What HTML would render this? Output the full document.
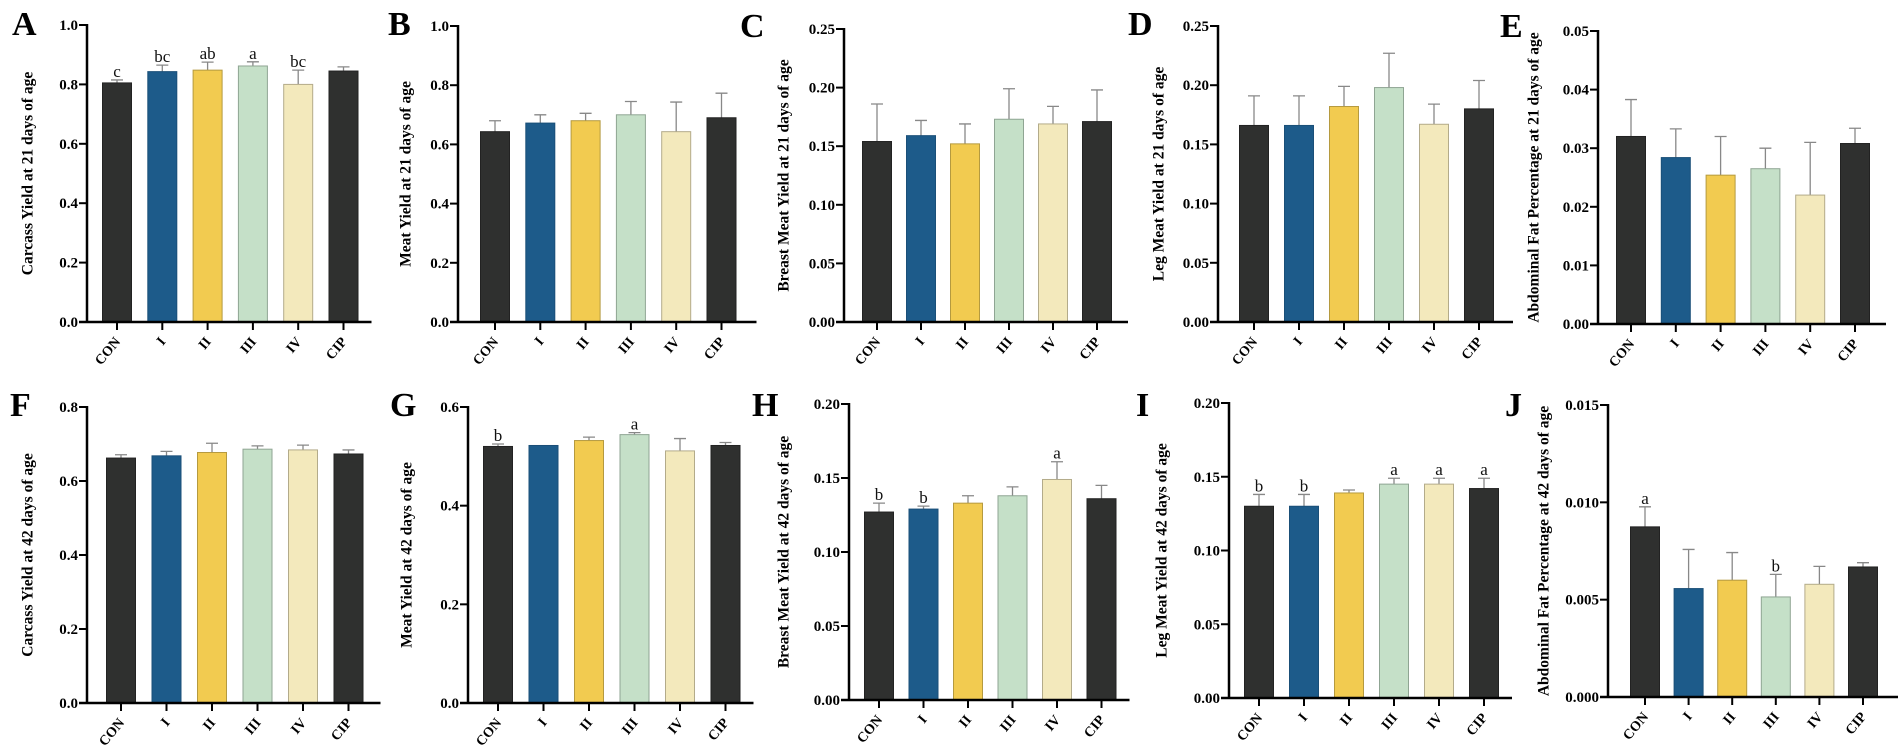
<!DOCTYPE html>
<html><head><meta charset="utf-8">
<style>
html,body{margin:0;padding:0;background:#fff;}
svg{display:block;font-family:"Liberation Serif",serif;font-weight:bold;}
</style></head>
<body>
<svg id="fig" width="1901" height="754" viewBox="0 0 1901 754" xmlns="http://www.w3.org/2000/svg"></svg>
<script>
const categories = ["CON","I","II","III","IV","CIP"];
const colors = ["#2f302f","#1d5b8a","#f2cb50","#c5e0c8","#f3e9bc","#2f302f"];
const strokes = ["#222","#1a4f78","#b59a3f","#8fa593","#b3ab8a","#222"];

const valsA = [0.805,0.843,0.848,0.862,0.800,0.845];
const errA  = [0.010,0.022,0.027,0.014,0.048,0.014];
const sigA  = ["c","bc","ab","a","bc",""];
const valsB = [0.643,0.672,0.680,0.700,0.643,0.690];
const errB  = [0.037,0.028,0.025,0.045,0.100,0.083];
const valsC = [0.154,0.159,0.152,0.173,0.169,0.171];
const errC  = [0.032,0.013,0.017,0.026,0.015,0.027];
const valsD = [0.166,0.166,0.182,0.198,0.167,0.180];
const errD  = [0.025,0.025,0.017,0.029,0.017,0.024];
const valsE = [0.0320,0.0284,0.0254,0.0265,0.0220,0.0308];
const errE  = [0.0063,0.0049,0.0066,0.0035,0.0090,0.0026];
const valsF = [0.662,0.668,0.677,0.686,0.684,0.673];
const errF  = [0.009,0.012,0.025,0.009,0.013,0.011];
const valsG = [0.520,0.522,0.532,0.544,0.511,0.522];
const errG  = [0.005,0.000,0.007,0.004,0.025,0.006];
const sigG  = ["b","","","a","",""];
const valsH = [0.127,0.129,0.133,0.138,0.149,0.136];
const errH  = [0.006,0.002,0.005,0.006,0.012,0.009];
const sigH  = ["b","b","","","a",""];
const valsI = [0.130,0.130,0.139,0.145,0.145,0.142];
const errI  = [0.008,0.008,0.002,0.004,0.004,0.007];
const sigI  = ["b","b","","a","a","a"];
const valsJ = [0.00874,0.00557,0.0060,0.00514,0.00579,0.00668];
const errJ  = [0.00103,0.00201,0.00142,0.00116,0.00092,0.00022];
const sigJ  = ["a","","","b","",""];

const ticksA = ["0.0","0.2","0.4","0.6","0.8","1.0"];
const ticksC = ["0.00","0.05","0.10","0.15","0.20","0.25"];
const ticksE = ["0.00","0.01","0.02","0.03","0.04","0.05"];
const ticksF = ["0.0","0.2","0.4","0.6","0.8"];
const ticksG = ["0.0","0.2","0.4","0.6"];
const ticksH = ["0.00","0.05","0.10","0.15","0.20"];
const ticksJ = ["0.000","0.005","0.010","0.015"];

const panels = [
 {id:"a",letter:"A",lx:12,ly:35,ax:87,top:25,zero:322,max:1.0,ticks:ticksA,vals:valsA,err:errA,sig:sigA,off:30,sp:45.3,title:"Carcass Yield at 21 days of age",tx:29},
 {id:"b",letter:"B",lx:388,ly:35,ax:458,top:26,zero:322,max:1.0,ticks:ticksA,vals:valsB,err:errB,sig:null,off:37,sp:45.3,title:"Meat Yield at 21 days of age",tx:407},
 {id:"c",letter:"C",lx:740,ly:37,ax:844,top:29,zero:322,max:0.25,ticks:ticksC,vals:valsC,err:errC,sig:null,off:33,sp:44,title:"Breast Meat Yield at 21 days of age",tx:785},
 {id:"d",letter:"D",lx:1128,ly:35,ax:1218,top:26,zero:322,max:0.25,ticks:ticksC,vals:valsD,err:errD,sig:null,off:36,sp:45,title:"Leg Meat Yield at 21 days of age",tx:1160},
 {id:"e",letter:"E",lx:1500,ly:37,ax:1598,top:31,zero:324,max:0.05,ticks:ticksE,vals:valsE,err:errE,sig:null,off:33,sp:44.8,title:"Abdominal Fat Percentage at 21 days of age",tx:1535},
 {id:"f",letter:"F",lx:10,ly:416,ax:87,top:407,zero:703,max:0.8,ticks:ticksF,vals:valsF,err:errF,sig:null,off:34,sp:45.5,title:"Carcass Yield at 42 days of age",tx:29},
 {id:"g",letter:"G",lx:390,ly:416,ax:468,top:407,zero:703,max:0.6,ticks:ticksG,vals:valsG,err:errG,sig:sigG,off:30,sp:45.5,title:"Meat Yield at 42 days of age",tx:408},
 {id:"h",letter:"H",lx:752,ly:416,ax:849,top:404,zero:700,max:0.20,ticks:ticksH,vals:valsH,err:errH,sig:sigH,off:30,sp:44.5,title:"Breast Meat Yield at 42 days of age",tx:785},
 {id:"i",letter:"I",lx:1136,ly:416,ax:1229,top:403,zero:698,max:0.20,ticks:ticksH,vals:valsI,err:errI,sig:sigI,off:30,sp:45,title:"Leg Meat Yield at 42 days of age",tx:1163},
 {id:"j",letter:"J",lx:1505,ly:416,ax:1608,top:405,zero:697,max:0.015,ticks:ticksJ,vals:valsJ,err:errJ,sig:sigJ,off:37,sp:43.6,title:"Abdominal Fat Percentage at 42 days of age",tx:1545}
];

const NS="http://www.w3.org/2000/svg";
const svg=document.getElementById("fig");
function mk(tag,attrs,parent){const e=document.createElementNS(NS,tag);for(const k in attrs)e.setAttribute(k,attrs[k]);(parent||svg).appendChild(e);return e;}

panels.forEach(p=>{
  const g=mk("g",{});
  
  
  const y=v=>p.zero-(v/p.max)*(p.zero-p.top);
  const xc=i=>p.ax+p.off+i*p.sp;
  const axEnd=p.ax+p.off+5*p.sp+p.off-2;

  const L=mk("text",{x:p.lx,y:p.ly,"font-size":34,fill:"#000"},g);
  L.textContent=p.letter;
  
  

  const T=mk("text",{x:p.tx,y:(p.top+p.zero)/2,"font-size":15.5,fill:"#000","text-anchor":"middle",transform:`rotate(-90 ${p.tx} ${(p.top+p.zero)/2})`,"dominant-baseline":"middle"},g);
  T.textContent=p.title;
  
  

  // bars
  p.vals.forEach((v,i)=>{
    const bw=29;
    const top=y(v);
    const eb=y(v+p.err[i]);
    if(p.err[i]>0){
      const el=mk("path",{d:`M${xc(i)} ${top} V${eb} M${xc(i)-6} ${eb} H${xc(i)+6}`,stroke:"#888","stroke-width":1.3,fill:"none"},g);
      
      
    }
    const r=mk("rect",{x:xc(i)-bw/2,y:top,width:bw,height:p.zero-top,fill:colors[i],stroke:strokes[i],"stroke-width":1},g);
    
    
    if(p.sig && p.sig[i]){
      const s=mk("text",{x:xc(i),y:eb-3,"font-size":17,"font-weight":"normal",fill:"#111","text-anchor":"middle"},g);
      s.textContent=p.sig[i];
      
      
    }
    const tk=mk("line",{x1:xc(i),x2:xc(i),y1:p.zero,y2:p.zero+8,stroke:"#000","stroke-width":2},g);
    
    
    const lx=xc(i)+4, ly=p.zero+20;
    const xl=mk("text",{x:lx,y:ly,"font-size":14,fill:"#000","text-anchor":"end",transform:`rotate(-50 ${lx} ${ly})`},g);
    xl.textContent=categories[i];
    
    
  });

  // axes
  const ya=mk("line",{x1:p.ax,x2:p.ax,y1:p.top-1,y2:p.zero+1,stroke:"#000","stroke-width":2.5},g);
  
  
  const xa=mk("line",{x1:p.ax-8,x2:axEnd,y1:p.zero,y2:p.zero,stroke:"#000","stroke-width":2.5},g);
  
  
  const n=p.ticks.length-1;
  p.ticks.forEach((t,k)=>{
    const ty=p.zero-(k/n)*(p.zero-p.top);
    const tl=mk("line",{x1:p.ax-8,x2:p.ax,y1:ty,y2:ty,stroke:"#000","stroke-width":2},g);
    
    
    const tt=mk("text",{x:p.ax-9,y:ty+5,"font-size":15,fill:"#000","text-anchor":"end"},g);
    tt.textContent=t;
    
    
  });
});
</script>
</body></html>
